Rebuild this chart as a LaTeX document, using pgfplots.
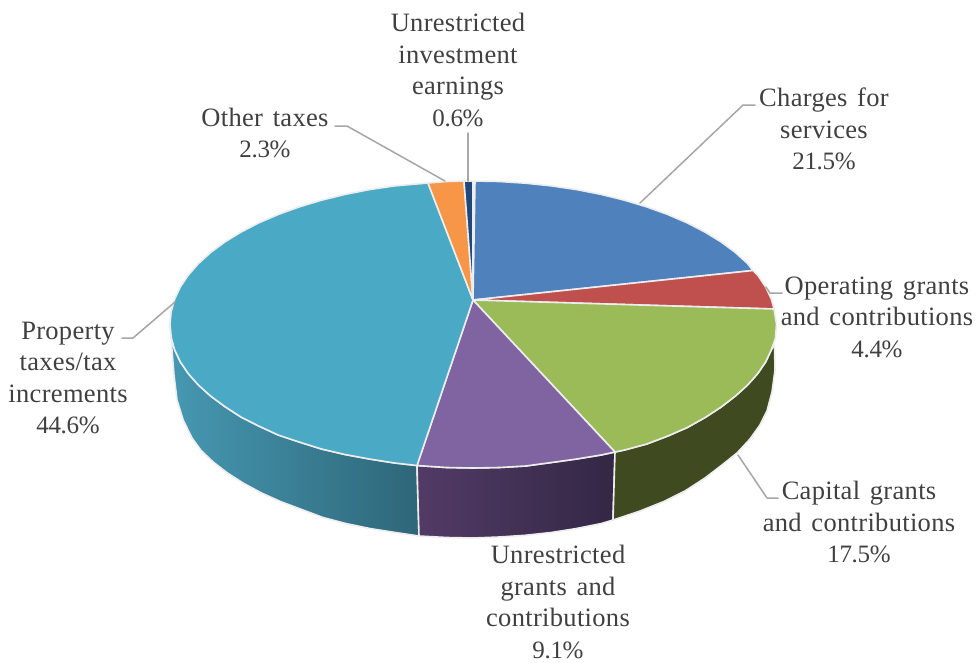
\documentclass[border=0pt]{standalone}
\usepackage{pgfplots}
\pgfplotsset{compat=1.18}
\usepackage{fontspec}
\setmainfont[LetterSpace=1.2,WordSpace=1.4]{Liberation Serif}
\newfontfamily\numfont[LetterSpace=-1.4]{Liberation Serif}
\newcommand{\pct}[1]{{\fontsize{25}{31.4}\numfont #1\%}}
\definecolor{charges}{HTML}{4F81BD}
\definecolor{operating}{HTML}{C0504D}
\definecolor{capital}{HTML}{9BBB59}
\definecolor{unrestricted}{HTML}{8064A2}
\definecolor{property}{HTML}{4AA9C5}
\definecolor{othertax}{HTML}{F79646}
\definecolor{investment}{HTML}{1F497D}
\definecolor{capitalwall}{HTML}{3F4A20}
\definecolor{propwallA}{HTML}{4698B2}
\definecolor{propwallB}{HTML}{2E6678}
\definecolor{unrwallA}{HTML}{523B66}
\definecolor{unrwallB}{HTML}{332745}
\definecolor{rim}{HTML}{EDEDED}
\definecolor{leader}{HTML}{A6A6A6}
\definecolor{labeltext}{HTML}{404040}
\tikzset{
  slice/.style={draw=rim, line width=1.6pt},
  lead/.style={draw=leader, line width=1.5pt, fill=none},
  lab/.style={align=center, text=labeltext, inner sep=0pt,
    font=\fontsize{26.5}{31.4}\selectfont},
}
\begin{document}
\begin{tikzpicture}
\begin{axis}[
  width=980pt, height=662pt, scale only axis,
  xmin=0, xmax=980, ymin=0, ymax=662, y dir=reverse,
  axis line style={draw=none}, ticks=none, clip=false, no markers,
  every axis plot/.append style={line join=round, line cap=round},
]
% side walls of the disc
\addplot[slice, left color=propwallA, right color=propwallB]
 coordinates {(170,324)(171.2,337.4)(174.6,349.7)(180.3,361.8)(188.3,373.6)(198.4,385)(210.6,396)(224.8,406.5)
  (240.9,417)(258.7,426)(278.2,435)(299.2,442)(321.5,449)(345,454.5)(369.4,459)(394.6,463)(417,465.5)
  (419,536)(395.4,532.5)(370.4,528.6)(346.2,523.6)(323,517.5)(300.9,509.2)(280.2,501.4)(260.9,492.7)
  (243.2,483.1)(227.3,472.9)(213.2,462)(201.1,450.5)(192,438)(183.2,420)(177,400)(174,375)(172,350)} --cycle;
\addplot[slice, left color=unrwallA, right color=unrwallB]
 coordinates {(417,465.5)(446.6,467.5)(473,468)(499.4,467.5)(525.6,466)(551.4,462.5)(576.6,459)(601,455)(615,452)
  (613,520)(601,523.6)(576,528.6)(551,532.5)(525,535.3)(499,537)(473,538)(447,537.5)(419,536)} --cycle;
\addplot[slice, fill=capitalwall]
 coordinates {(615,452)(624.5,450)(646.8,444)(667.8,436)(687.3,427.5)(705.1,417.5)(721.2,407)(735.4,396)(747.6,385)
  (757.7,373.6)(765.7,361.8)(771.4,349.7)(774.5,345)
  (775,370)(772,392)(767,411)(760,425)(750,439)(737,453)(722,465)(705,478)(685,491)(665,501)(640,511)(613,520)} --cycle;
% top face of the disc, one polygon per slice, clockwise from twelve o'clock
\addplot[slice, fill=charges]
 coordinates {(473,300)(475,181)(499.4,181.5)(525.6,183.2)(551.4,185.9)(576.6,189.6)(601.1,194.4)(624.5,200.2)
  (646.8,206.9)(667.8,214.5)(687.3,222.9)(705.1,232.1)(721.2,242)(735.4,252.5)(747.6,263.6)(753,270.5)} --cycle;
\addplot[slice, fill=operating]
 coordinates {(473,300)(753,270.5)(757.7,275.1)(765.7,287)(771.4,299.2)(774,309)} --cycle;
\addplot[slice, fill=capital]
 coordinates {(473,300)(774,309)(776.5,324)(775.5,338)(771.4,349.7)(765.7,361.8)(757.7,373.6)(747.6,385)(735.4,396)
  (721.2,407)(705.1,417.5)(687.3,427.5)(667.8,436)(646.8,444)(624.5,450)(615,452)} --cycle;
\addplot[slice, fill=unrestricted]
 coordinates {(473,300)(615,452)(601,455)(576.6,459)(551.4,462.5)(525.6,466)(499.4,467.5)(473,468)(446.6,467.5)(417,465.5)} --cycle;
\addplot[slice, fill=property]
 coordinates {(473,300)(417,465.5)(394.6,463)(369.4,459)(345,454.5)(321.5,449)(299.2,442)(278.2,435)(258.7,426)
  (240.9,417)(224.8,406.5)(210.6,396)(198.4,385)(188.3,373.6)(180.3,361.8)(174.6,349.7)(171.2,337.4)(170,324)
  (171.2,311.5)(174.6,299.2)(180.3,287)(188.3,275.1)(198.4,263.6)(210.6,252.5)(224.8,242)(240.9,232.1)
  (258.7,222.9)(278.2,214.5)(299.2,206.9)(321.5,200.2)(345,194.4)(369.4,189.6)(394.6,185.9)(428,183)} --cycle;
\addplot[slice, fill=othertax]
 coordinates {(473,300)(428,183)(446.6,181.5)(464,181)} --cycle;
\addplot[slice, fill=investment]
 coordinates {(473,300)(464,181)(473,181)} --cycle;
% leader lines
\addplot[lead] coordinates {(640,203)(743,105)(755,105)};
\addplot[lead] coordinates {(766,287)(770,293)(782,293)};
\addplot[lead] coordinates {(738,455)(767,498)(778,498)};
\addplot[lead] coordinates {(468,133)(468,181)};
\addplot[lead] coordinates {(335,126)(347,126)(445,181)};
\addplot[lead] coordinates {(175,302)(133,338)(122,338)};
% slice labels
\node[lab] at (axis cs:458,70) {Unrestricted\\investment\\earnings\\\pct{0.6}};
\node[lab] at (axis cs:824,129) {Charges for\\services\\\pct{21.5}};
\node[lab] at (axis cs:877,317) {Operating grants\\and contributions\\\pct{4.4}};
\node[lab] at (axis cs:859,522) {Capital grants\\and contributions\\\pct{17.5}};
\node[lab] at (axis cs:558,602) {Unrestricted\\grants and\\contributions\\\pct{9.1}};
\node[lab] at (axis cs:68,378) {Property\\taxes/tax\\increments\\\pct{44.6}};
\node[lab] at (axis cs:265,133) {Other taxes\\\pct{2.3}};
\end{axis}
\end{tikzpicture}
\end{document}
